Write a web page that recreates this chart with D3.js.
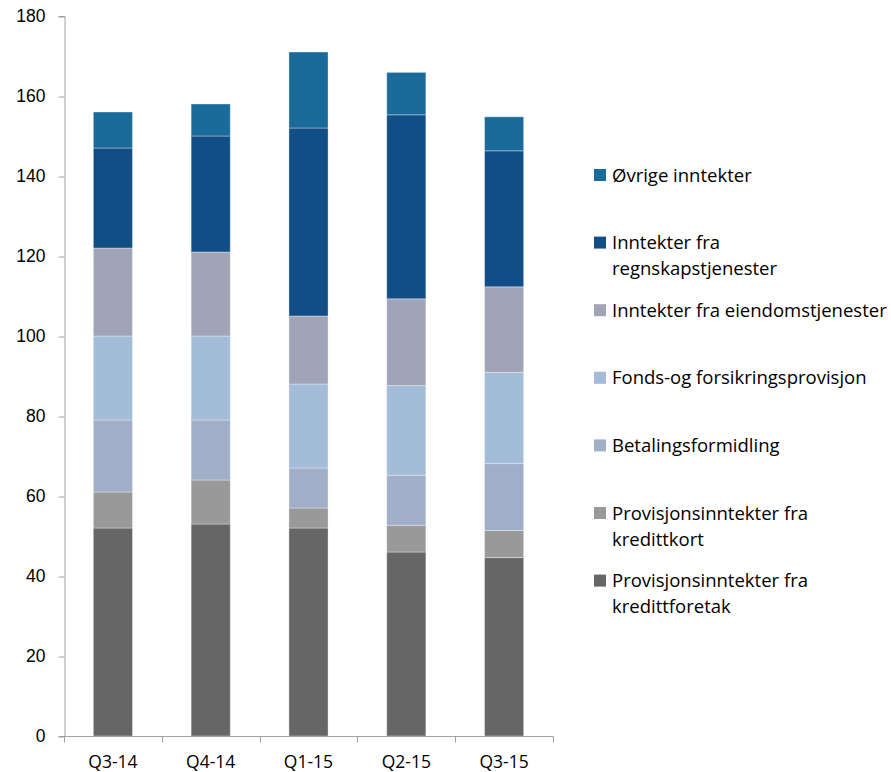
<!DOCTYPE html>
<html>
<head>
<meta charset="utf-8">
<script src="https://cdn.jsdelivr.net/npm/d3@7"></script>
<style>
  body { margin: 0; background: #fff; }
  svg { display: block; font-family: 'Open Sans', sans-serif; }
  .axis path, .axis line { stroke: #a0a0a0; }
  .axis text { fill: #000; font-size: 17.5px; }
  .legend text { font-size: 18.5px; fill: #000; }
</style>
</head>
<body>
<script>
'use strict';

// quarters on the x axis
const quarters = ['Q3-14', 'Q4-14', 'Q1-15', 'Q2-15', 'Q3-15'];

// series, bottom of stack first
const seriesNames = [
  'Provisjonsinntekter fra kredittforetak',
  'Provisjonsinntekter fra kredittkort',
  'Betalingsformidling',
  'Fonds-og forsikringsprovisjon',
  'Inntekter fra eiendomstjenester',
  'Inntekter fra regnskapstjenester',
  'Øvrige inntekter'
];

const kredittforetak = [52, 53, 52, 46, 44.6];
const kredittkort = [9, 11, 5, 6.7, 6.8];
const betalingsformidling = [18, 15, 10, 12.5, 16.7];
const fondsForsikring = [21, 21, 21, 22.4, 22.8];
const eiendom = [22, 21, 17, 21.7, 21.4];
const regnskap = [25, 29, 47, 46, 34];
const ovrige = [9, 8, 19, 10.6, 8.5];

const yTicks = [0, 20, 40, 60, 80, 100, 120, 140, 160, 180];

const colors = ['#666666', '#999999', '#a0aec8', '#a3bcd8', '#a1a4b7', '#114e85', '#1b6b9a'];

// legend labels, top to bottom, split into lines like the original
const legendLines = [
  ['Øvrige inntekter'],
  ['Inntekter fra', 'regnskapstjenester'],
  ['Inntekter fra eiendomstjenester'],
  ['Fonds-og forsikringsprovisjon'],
  ['Betalingsformidling'],
  ['Provisjonsinntekter fra', 'kredittkort'],
  ['Provisjonsinntekter fra', 'kredittforetak']
];

const width = 891;
const height = 772;

const seriesValues = [kredittforetak, kredittkort, betalingsformidling,
  fondsForsikring, eiendom, regnskap, ovrige];

// build table for d3.stack
const table = quarters.map((q, i) => {
  const row = { quarter: q };
  seriesNames.forEach((name, s) => { row[name] = seriesValues[s][i]; });
  return row;
});

const stacked = d3.stack().keys(seriesNames)(table);

const svg = d3.select('body').append('svg')
  .attr('width', width)
  .attr('height', height);

const xScale = d3.scaleBand()
  .domain(quarters)
  .range([64, 553])
  .paddingInner(0.6)
  .paddingOuter(0.3);

const yScale = d3.scaleLinear()
  .domain([0, 180])
  .range([736, 16]);

// bars
svg.append('g')
  .selectAll('g')
  .data(stacked)
  .enter()
  .append('g')
  .attr('fill', (d, i) => colors[i])
  .selectAll('rect')
  .data(d => d)
  .enter()
  .append('rect')
  .attr('x', d => xScale(d.data.quarter))
  .attr('width', xScale.bandwidth())
  .attr('y', d => yScale(d[1]))
  .attr('height', d => yScale(d[0]) - yScale(d[1]))
  .attr('stroke', 'rgba(255,255,255,0.35)')
  .attr('stroke-width', 1);

// y axis
const yAxis = svg.append('g')
  .attr('class', 'axis')
  .attr('transform', 'translate(64.5, 0)')
  .call(d3.axisLeft(yScale).tickValues(yTicks).tickSize(6).tickSizeOuter(6).tickPadding(13));
yAxis.selectAll('line').attr('transform', 'translate(0, 0.5)');

// x axis with ticks between categories
const xAxis = svg.append('g')
  .attr('class', 'axis')
  .attr('transform', 'translate(0, 736.5)');
xAxis.append('line')
  .attr('x1', 64).attr('x2', 553.5)
  .attr('y1', 0).attr('y2', 0);
const edges = quarters.map(q => xScale(q) - xScale.step() * 0.3).concat([553]);
xAxis.selectAll('.tick')
  .data(edges)
  .enter()
  .append('line')
  .attr('x1', d => Math.round(d) + 0.5)
  .attr('x2', d => Math.round(d) + 0.5)
  .attr('y1', 0)
  .attr('y2', 6);
xAxis.selectAll('text')
  .data(quarters)
  .enter()
  .append('text')
  .attr('x', d => xScale(d) + xScale.bandwidth() / 2)
  .attr('y', 31)
  .attr('text-anchor', 'middle')
  .text(d => d);

// legend
const legend = svg.append('g').attr('class', 'legend');
const legendColors = colors.slice().reverse();
legendLines.forEach((lines, i) => {
  const cy = 175 + i * 67.6;
  legend.append('rect')
    .attr('x', 594)
    .attr('y', cy - 6)
    .attr('width', 12)
    .attr('height', 12)
    .attr('fill', legendColors[i]);
  lines.forEach((line, j) => {
    legend.append('text')
      .attr('x', 612)
      .attr('y', cy + 6.5 + j * 26)
      .text(line);
  });
});
</script>
</body>
</html>
